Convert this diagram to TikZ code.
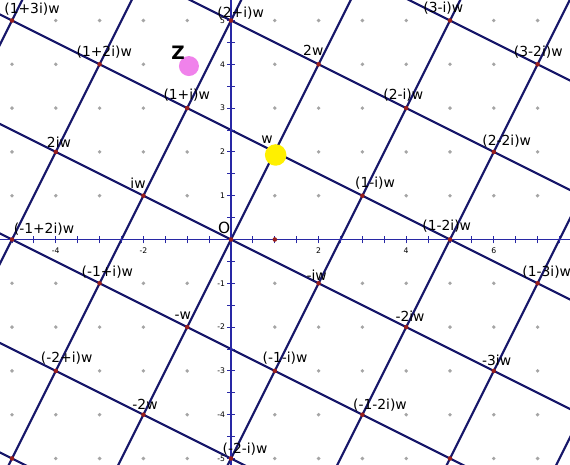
\documentclass[tikz,border=0pt]{standalone}
\usepackage{fontspec}
\setmainfont{DejaVu Sans}
\usetikzlibrary{calc}
\definecolor{latt}{RGB}{22,22,105}
\definecolor{axisc}{RGB}{40,40,165}
\definecolor{ptred}{RGB}{150,30,30}
\definecolor{zpink}{RGB}{240,130,235}
\definecolor{wyellow}{RGB}{255,240,0}
\definecolor{griddot}{RGB}{165,165,165}
\begin{document}
\begin{tikzpicture}[x=1cm,y=1cm,
  lattline/.style={latt, line width=1.4pt},
  axisline/.style={axisc, line width=1.2pt},
  tickline/.style={axisc, line width=0.6pt},
  lab/.style={font=\fontsize{9}{10}\selectfont, inner sep=0pt},
  ticklab/.style={font=\fontsize{5}{6}\selectfont, inner sep=0pt},
  lpt/.style={circle, fill=ptred, inner sep=0pt, minimum size=3pt},
  gdot/.style={circle, fill=griddot, inner sep=0pt, minimum size=2.5pt}]
\useasboundingbox (-5.274,-5.148) rectangle (7.74,5.468);
\clip (-5.274,-5.148) rectangle (7.74,5.468);
% grid dots
\foreach \x in {-5,...,7} {
  \foreach \y in {-5,...,5} {
    \ifnum\x=0 \else \ifnum\y=0 \else \node[gdot] (g\x\y) at (\x,\y) {}; \fi\fi
  }
}
% lattice lines, direction w (slope 2): y = 2x + 5n
\foreach \n in {-4,...,3} {
  \coordinate (wa\n) at ({(-6-5*\n)/2},-6);
  \coordinate (wb\n) at ({(6-5*\n)/2},6);
  \draw[lattline] (wa\n) -- (wb\n);
}
% lattice lines, direction iw (slope -1/2): y = -x/2 + 5m/2
\foreach \m in {-3,...,3} {
  \coordinate (ia\m) at (-6,{3+2.5*\m});
  \coordinate (ib\m) at (8,{-4+2.5*\m});
  \draw[lattline] (ia\m) -- (ib\m);
}
% axes
\coordinate (xl) at (-5.4,0); \coordinate (xr) at (7.9,0);
\coordinate (yb) at (0,-5.3); \coordinate (yt) at (0,5.6);
\draw[axisline] (xl) -- (xr);
\draw[axisline] (yb) -- (yt);
\foreach \t in {-11,...,16} { \draw[tickline] ({\t/2},-0.09) -- ({\t/2},0.09); }
\foreach \t in {-11,...,11} { \draw[tickline] (-0.09,{\t/2}) -- (0.09,{\t/2}); }
\foreach \t in {-4,-2,2,4,6} { \node[ticklab] (tx\t) at (\t,-0.25) {\t}; }
\foreach \t in {-5,...,-1,1,2,3,4,5} { \node[ticklab, anchor=east] (ty\t) at (-0.13,\t) {\t}; }
% lattice points
\foreach \p/\q in {-5/-5,-5/0,-5/5,-4/-3,-4/2,-3/-1,-3/4,-2/-4,-2/1,-1/-2,-1/3,0/-5,0/0,0/5,1/-3,1/2,2/-1,2/4,3/-4,3/1,4/-2,4/3,5/-5,5/0,5/5,6/-3,6/2,7/-1,7/4} {
  \node[lpt] (L\p\q) at (\p,\q) {};
}
\node[lpt] (one) at (1,0) {};
% special points
\node[circle, fill=wyellow, inner sep=0pt, minimum size=14pt] (W) at (1.02,1.93) {};
\node[circle, fill=zpink, inner sep=0pt, minimum size=13pt] (Z) at (-0.96,3.96) {};
\node[font=\bfseries\fontsize{12}{13}\selectfont, inner sep=0pt] (Zl) at (-1.21,4.26) {Z};
% labels
\node[lab] (l1) at (-4.543,5.256) {(1+3i)w};
\node[lab] (l2) at (0.221,5.164) {(2+i)w};
\node[lab] (l3) at (4.847,5.279) {(3-i)w};
\node[lab] (l4) at (-2.893,4.288) {(1+2i)w};
\node[lab] (l5) at (1.879,4.326) {2w};
\node[lab] (l6) at (7.016,4.288) {(3-2i)w};
\node[lab] (l7) at (-1.011,3.299) {(1+i)w};
\node[lab] (l8) at (3.934,3.299) {(2-i)w};
\node[lab] (l9) at (-3.927,2.226) {2iw};
\node[lab] (l10) at (0.822,2.272) {w};
\node[lab] (l11) at (6.295,2.256) {(2-2i)w};
\node[lab] (l12) at (-2.123,1.290) {iw};
\node[lab] (l13) at (3.288,1.297) {(1-i)w};
\node[lab] (l14) at (-4.269,0.240) {(-1+2i)w};
\node[lab, font=\fontsize{10}{11}\selectfont] (l15) at (-0.153,0.256) {O};
\node[lab] (l16) at (4.925,0.308) {(1-2i)w};
\node[lab] (l17) at (-2.824,-0.735) {(-1+i)w};
\node[lab] (l18) at (1.957,-0.811) {-iw};
\node[lab] (l19) at (7.208,-0.749) {(1-3i)w};
\node[lab] (l20) at (-1.103,-1.747) {-w};
\node[lab] (l21) at (4.087,-1.763) {-2iw};
\node[lab] (l22) at (-3.751,-2.712) {(-2+i)w};
\node[lab] (l23) at (1.233,-2.705) {(-1-i)w};
\node[lab] (l24) at (6.066,-2.767) {-3iw};
\node[lab] (l25) at (-1.963,-3.756) {-2w};
\node[lab] (l26) at (3.402,-3.779) {(-1-2i)w};
\node[lab] (l27) at (0.320,-4.790) {(-2-i)w};
\end{tikzpicture}
\end{document}
